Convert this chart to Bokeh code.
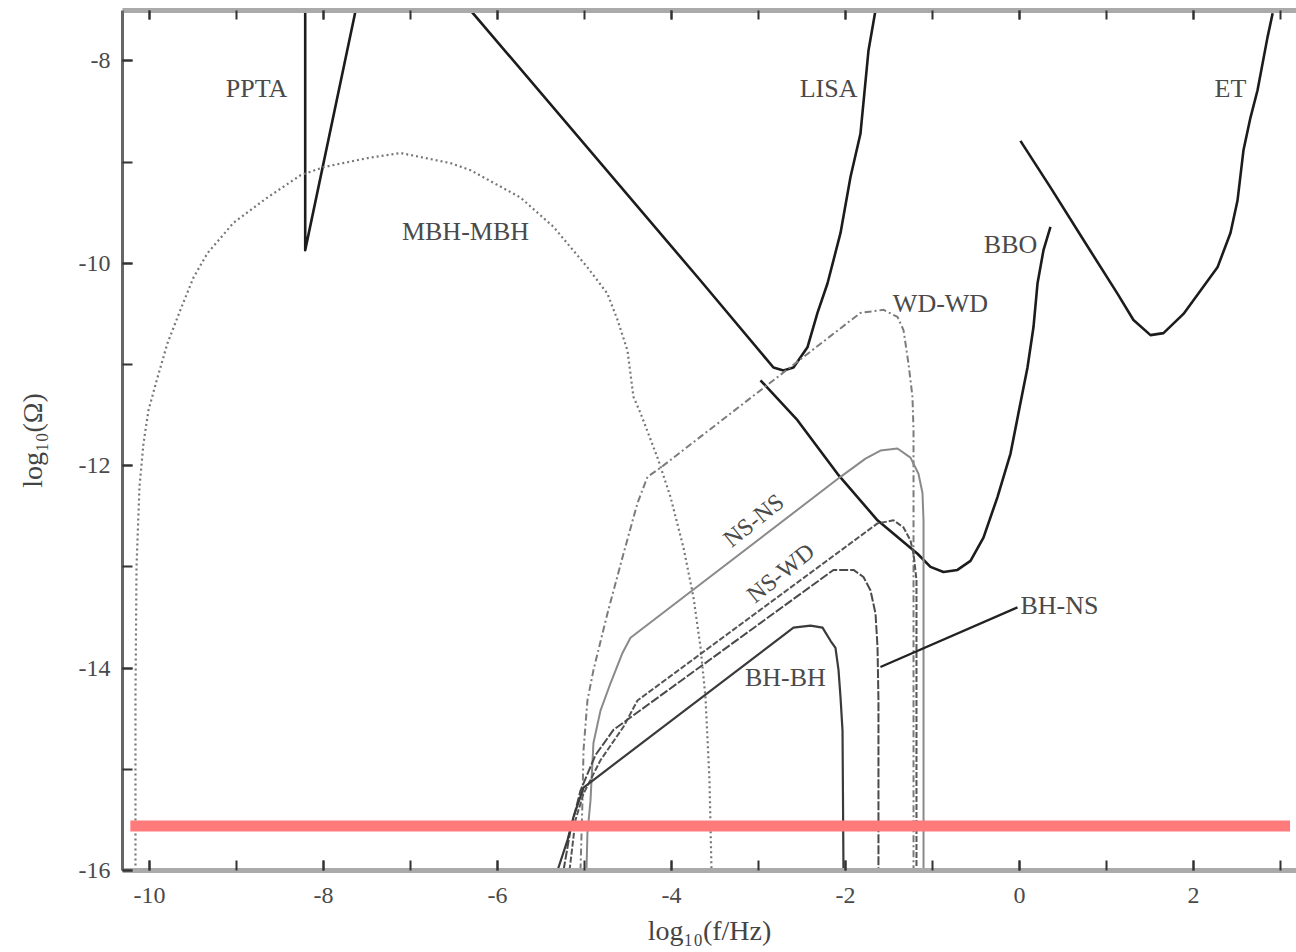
from bokeh.plotting import figure
from bokeh.models import Range1d, LinearAxis, SingleIntervalTicker
from bokeh.core.properties import value
from bokeh.embed import file_html
from bokeh.resources import INLINE

# ---------------- data (log10 f [Hz], log10 Omega) ----------------
ppta_x = [-8.21, -8.21, -7.63]
ppta_y = [-7.50, -9.87, -7.50]

lisa_x = [-6.31, -3.667, -2.828, -2.713, -2.598, -2.437, -2.322, -2.207, -2.057, -1.943, -1.828, -1.736, -1.655]
lisa_y = [-7.50, -10.17, -11.03, -11.06, -11.03, -10.83, -10.49, -10.20, -9.70, -9.15, -8.72, -7.90, -7.50]

bbo_x = [-2.977, -2.552, -2.092, -1.632, -1.172, -1.023, -0.874, -0.713, -0.563, -0.414, -0.253, -0.103, 0.011, 0.092, 0.161, 0.207, 0.276, 0.356]
bbo_y = [-11.156, -11.55, -12.08, -12.54, -12.87, -13.00, -13.05, -13.03, -12.94, -12.71, -12.31, -11.88, -11.38, -11.03, -10.63, -10.20, -9.87, -9.64]

et_x = [0.011, 0.356, 0.736, 1.126, 1.31, 1.506, 1.655, 1.885, 2.276, 2.425, 2.506, 2.575, 2.655, 2.736, 2.85, 2.91]
et_y = [-8.79, -9.25, -9.77, -10.30, -10.56, -10.71, -10.69, -10.50, -10.04, -9.70, -9.38, -8.88, -8.56, -8.29, -7.77, -7.53]

mbh_x = [-10.161, -10.161, -10.149, -10.115, -10.069, -10.011, -9.908, -9.793, -9.644, -9.494, -9.333, -9.034, -8.644, -8.264, -8.0,
         -7.494, -7.115, -6.54, -6.31, -5.736, -5.356, -4.966, -4.736, -4.62, -4.506, -4.437, -4.356, -4.161, -4.011, -3.862,
         -3.747, -3.667, -3.609, -3.563, -3.54]
mbh_y = [-16.0, -14.29, -13.0, -12.21, -11.78, -11.45, -11.13, -10.79, -10.46, -10.14, -9.90, -9.60, -9.35, -9.13, -9.05,
         -8.96, -8.91, -9.01, -9.08, -9.35, -9.64, -10.04, -10.30, -10.56, -10.86, -11.32, -11.48, -11.92, -12.31, -12.81,
         -13.30, -13.79, -14.29, -15.11, -16.0]

wdwd_x = [-5.046, -5.023, -5.011, -4.966, -4.897, -4.736, -4.552, -4.391, -4.276, -4.126, -1.828, -1.563, -1.402, -1.333, -1.276, -1.230, -1.218, -1.218]
wdwd_y = [-16.0, -15.31, -14.81, -14.32, -14.02, -13.46, -12.87, -12.37, -12.11, -12.02, -10.49, -10.46, -10.53, -10.66, -10.99, -11.32, -11.65, -16.0]

nsns_x = [-4.977, -4.966, -4.931, -4.897, -4.816, -4.701, -4.563, -4.471, -2.057, -1.770, -1.598, -1.402, -1.253, -1.161, -1.115, -1.103, -1.103]
nsns_y = [-16.0, -15.63, -15.31, -14.74, -14.42, -14.15, -13.85, -13.70, -12.11, -11.93, -11.85, -11.83, -11.92, -12.08, -12.27, -12.54, -16.0]

nswd_x = [-5.172, -5.103, -5.011, -4.816, -4.552, -4.391, -1.632, -1.448, -1.333, -1.253, -1.218, -1.184, -1.184]
nswd_y = [-16.0, -15.50, -15.24, -14.91, -14.58, -14.32, -12.57, -12.54, -12.61, -12.74, -12.87, -13.13, -16.0]

bhns_x = [-5.241, -5.161, -5.046, -4.874, -4.667, -2.138, -1.908, -1.793, -1.713, -1.655, -1.632, -1.621, -1.621]
bhns_y = [-16.0, -15.60, -15.21, -14.86, -14.61, -13.03, -13.03, -13.10, -13.23, -13.46, -13.79, -14.32, -16.0]

bhbh_x = [-5.310, -5.195, -5.126, -5.011, -2.598, -2.402, -2.264, -2.172, -2.115, -2.080, -2.057, -2.034, -2.023]
bhbh_y = [-16.0, -15.70, -15.47, -15.18, -13.60, -13.58, -13.60, -13.73, -13.80, -14.02, -14.29, -14.62, -16.0]

bhns_pointer_x = [-1.598, -0.023]
bhns_pointer_y = [-13.99, -13.40]

limit_x = [-10.22, 3.11]
limit_y = [-15.56, -15.56]

label_text = ["PPTA", "LISA", "ET", "BBO", "MBH-MBH", "WD-WD", "BH-BH"]
label_x = [-8.77, -2.195, 2.425, -0.103, -6.368, -0.908, -2.69]
label_y = [-8.27, -8.27, -8.27, -9.81, -9.69, -10.40, -14.09]

rot_text = ["NS-NS", "NS-WD"]
rot_x = [-3.057, -2.747]
rot_y = [-12.54, -13.06]

bhns_label = ["BH-NS"]
bhns_label_x = [0.011]
bhns_label_y = [-13.38]

x_tick_values = [-10, -8, -6, -4, -2, 0, 2]
x_tick_labels = ["-10", "-8", "-6", "-4", "-2", "0", "2"]
y_tick_values = [-16, -14, -12, -10, -8]
y_tick_labels = ["-16", "-14", "-12", "-10", "-8"]

# ---------------- figure ----------------
SERIF = "Liberation Serif"

p = figure(width=1296, height=952, output_backend="svg", toolbar_location=None,
           x_range=Range1d(-10.31, 3.184), y_range=Range1d(-16.0, -7.502),
           min_border_left=122, min_border_right=0, min_border_top=10, min_border_bottom=82,
           background_fill_color="white", border_fill_color="white")
p.outline_line_color = None
p.grid.visible = False

xax = p.xaxis[0]
xax.ticker = SingleIntervalTicker(interval=2, num_minor_ticks=2)
xax.major_label_overrides = dict(zip(x_tick_values, x_tick_labels))
xax.axis_label = "log\u2081\u2080(f/Hz)"
yax = p.yaxis[0]
yax.ticker = SingleIntervalTicker(interval=2, num_minor_ticks=2)
yax.major_label_overrides = dict(zip(y_tick_values, y_tick_labels))
yax.axis_label = "log\u2081\u2080(\u03a9)"

for ax in (xax, yax):
    ax.major_tick_in = 10
    ax.major_tick_out = 0
    ax.minor_tick_in = 10
    ax.minor_tick_out = 0
    ax.major_tick_line_color = "#333333"
    ax.minor_tick_line_color = "#333333"
    ax.major_tick_line_width = 2
    ax.minor_tick_line_width = 2
    ax.major_label_text_font = SERIF
    ax.major_label_text_font_size = "24px"
    ax.major_label_text_color = "#4a4a4a"
    ax.axis_label_text_font = SERIF
    ax.axis_label_text_font_size = "28px"
    ax.axis_label_text_font_style = "normal"
    ax.axis_label_text_color = "#444444"

xax.axis_line_color = "#aaaaaa"
xax.axis_line_width = 5
xax.major_label_standoff = 17
xax.axis_label_standoff = 9
yax.axis_line_color = "#666666"
yax.axis_line_width = 3
yax.major_label_standoff = 12
yax.axis_label_standoff = 28

top = LinearAxis(ticker=SingleIntervalTicker(interval=2, num_minor_ticks=2),
                 major_label_text_color=None, major_label_standoff=0,
                 axis_line_color="#aaaaaa", axis_line_width=5,
                 major_tick_in=9, major_tick_out=0, minor_tick_in=9, minor_tick_out=0,
                 major_tick_line_color="#333333", minor_tick_line_color="#333333",
                 major_tick_line_width=2, minor_tick_line_width=2)
p.add_layout(top, "above")

# detector sensitivity curves
for xs, ys in ((ppta_x, ppta_y), (lisa_x, lisa_y), (bbo_x, bbo_y), (et_x, et_y)):
    p.line(xs, ys, line_color="#1c1c1c", line_width=2.6, line_join="round")

# source spectra
p.line(mbh_x, mbh_y, line_color="#777777", line_width=2.2, line_dash="2 3", line_join="round")
p.line(wdwd_x, wdwd_y, line_color="#7c7c7c", line_width=2.0, line_dash="7 3 2 3", line_join="round")
p.line(nsns_x, nsns_y, line_color="#8a8a8a", line_width=2.0, line_join="round")
p.line(nswd_x, nswd_y, line_color="#555555", line_width=2.0, line_dash="6 2", line_join="round")
p.line(bhns_x, bhns_y, line_color="#4a4a4a", line_width=2.0, line_dash="9 2", line_join="round")
p.line(bhbh_x, bhbh_y, line_color="#3a3a3a", line_width=2.2, line_join="round")
p.line(bhns_pointer_x, bhns_pointer_y, line_color="#222222", line_width=2.2)

# limit band
p.line(limit_x, limit_y, line_color="#ff7b7b", line_width=11, line_cap="butt")

# labels
p.text(label_x, label_y, text=label_text, text_font=value(SERIF), text_font_size="26px",
       text_color="#4a4a4a", text_align="center", text_baseline="middle")
p.text(rot_x, rot_y, text=rot_text, text_font=value(SERIF), text_font_size="24px",
       text_color="#4a4a4a", text_align="center", text_baseline="middle", angle=0.68)
p.text(bhns_label_x, bhns_label_y, text=bhns_label, text_font=value(SERIF), text_font_size="26px",
       text_color="#4a4a4a", text_align="left", text_baseline="middle")

open("out.html", "w").write(file_html(p, INLINE))
